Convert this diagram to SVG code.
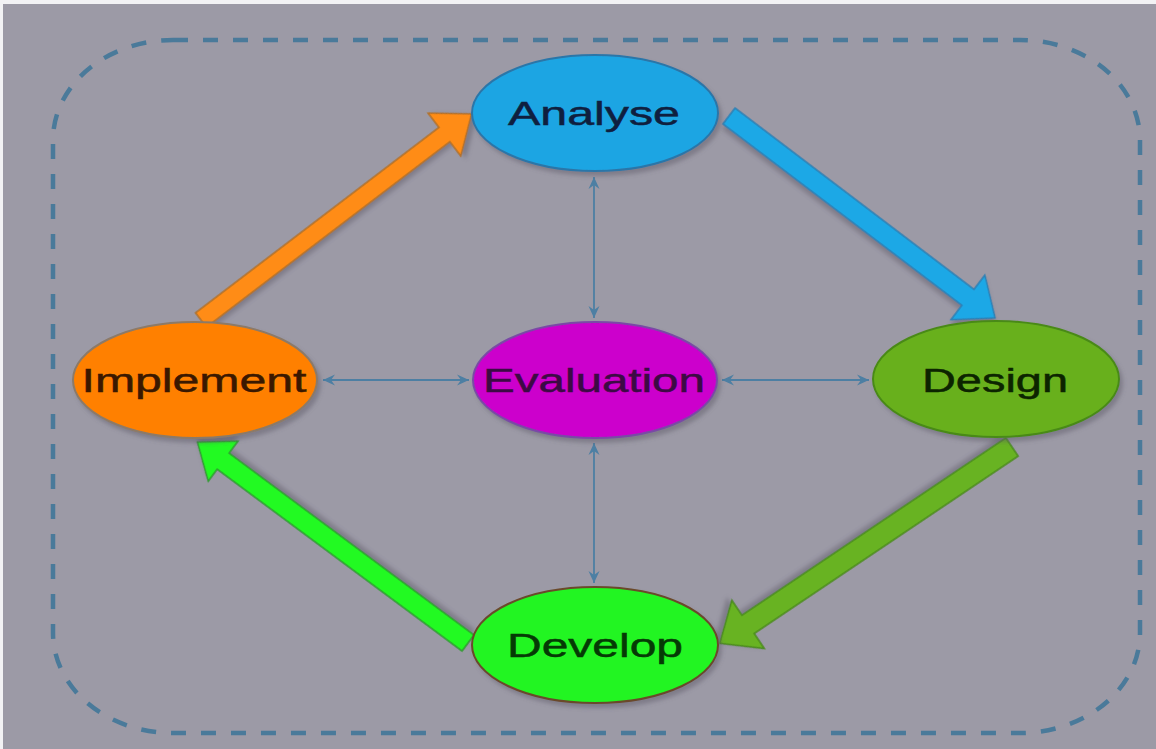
<svg xmlns="http://www.w3.org/2000/svg" width="1156" height="749" viewBox="0 0 1156 749">
  <style>
    .label { font-family: "Liberation Sans", Arial, sans-serif; font-size: 34px; text-anchor: middle; stroke-width: 0.5; }
    .link { stroke: #4d7fa3; stroke-width: 1.8; fill: none; marker-start: url(#tip); marker-end: url(#tip); }
    .block { stroke-width: 1.5; stroke-linejoin: miter; filter: url(#shade); }
    .node { stroke-width: 2; filter: url(#shade); }
  </style>
  <defs>
    <filter id="shade" x="-20%" y="-20%" width="140%" height="140%">
      <feDropShadow dx="3" dy="4" stdDeviation="2" flood-color="#5a5866" flood-opacity="0.45"/>
    </filter>
    <marker id="tip" viewBox="-13 -6 14 12" refX="0" refY="0" markerWidth="14" markerHeight="12" markerUnits="userSpaceOnUse" orient="auto-start-reverse">
      <path d="M0,0 L-12,-5.5 L-8,0 L-12,5.5 Z" fill="#4d7fa3"/>
    </marker>
  </defs>

  <!-- canvas -->
  <rect x="0" y="0" width="1156" height="749" fill="#9c9aa6"/>
  <rect x="0" y="0" width="1156" height="4" fill="#f2f2f4"/>
  <rect x="0" y="0" width="3" height="749" fill="#f2f2f4"/>

  <!-- dashed frame -->
  <rect x="53" y="40" width="1087" height="693" rx="120" ry="100" fill="none" stroke="#4a7a9a" stroke-width="4.5" stroke-dasharray="15 15"/>

  <!-- connectors -->
  <g id="connectors">
    <!-- cycle arrows -->
    <g transform="translate(201,320) rotate(-37.3)">
      <path class="block" d="M0,-9 L306,-9 L306,-27 L340,0 L306,27 L306,9 L0,9 Z" fill="#ff8c14" stroke="#b0702a"/>
    </g>
    <g transform="translate(729,116) rotate(37.2)">
      <path class="block" d="M0,-10 L300,-10 L300,-28 L334,0 L300,28 L300,10 L0,10 Z" fill="#1ea8e6" stroke="#2b7fb4"/>
    </g>
    <g transform="translate(1012,447) rotate(146.1)">
      <path class="block" d="M0,-11 L318,-11 L318,-29 L352,0 L318,29 L318,11 L0,11 Z" fill="#68b322" stroke="#4a8a1c"/>
    </g>
    <g transform="translate(468,643) rotate(216.6)">
      <path class="block" d="M0,-10 L305,-10 L305,-25 L337,0 L305,25 L305,10 L0,10 Z" fill="#22fa22" stroke="#2f9a2f"/>
    </g>
    <!-- evaluation links -->
    <line class="link" x1="323" y1="380" x2="469" y2="380"/>
    <line class="link" x1="722" y1="380" x2="869" y2="380"/>
    <line class="link" x1="594" y1="177" x2="594" y2="318"/>
    <line class="link" x1="594" y1="443" x2="594" y2="583"/>
  </g>

  <!-- nodes -->
  <g id="analyse">
    <ellipse class="node" cx="595" cy="113" rx="123" ry="58" fill="#1ea5e3" stroke="#2c76a8"/>
    <text class="label" x="594" y="125" textLength="172" lengthAdjust="spacingAndGlyphs" fill="#0f1f3f" stroke="#0f1f3f">Analyse</text>
  </g>
  <g id="evaluation">
    <ellipse class="node" cx="595" cy="380" rx="122" ry="58" fill="#cc00cc" stroke="#7a4aa6"/>
    <text class="label" x="594" y="392" textLength="222" lengthAdjust="spacingAndGlyphs" fill="#3c0a44" stroke="#3c0a44">Evaluation</text>
  </g>
  <g id="implement">
    <ellipse class="node" cx="195" cy="380" rx="122" ry="58" fill="#ff8000" stroke="#8c7a68"/>
    <text class="label" x="194" y="392" textLength="225" lengthAdjust="spacingAndGlyphs" fill="#3a1800" stroke="#3a1800">Implement</text>
  </g>
  <g id="design">
    <ellipse class="node" cx="996" cy="379" rx="123" ry="58" fill="#68b01f" stroke="#4a8a18"/>
    <text class="label" x="995" y="392" textLength="146" lengthAdjust="spacingAndGlyphs" fill="#0c2400" stroke="#0c2400">Design</text>
  </g>
  <g id="develop">
    <ellipse class="node" cx="595" cy="645" rx="123" ry="58" fill="#22f522" stroke="#6a4a2a"/>
    <text class="label" x="595" y="657" textLength="176" lengthAdjust="spacingAndGlyphs" fill="#053a05" stroke="#053a05">Develop</text>
  </g>
</svg>
